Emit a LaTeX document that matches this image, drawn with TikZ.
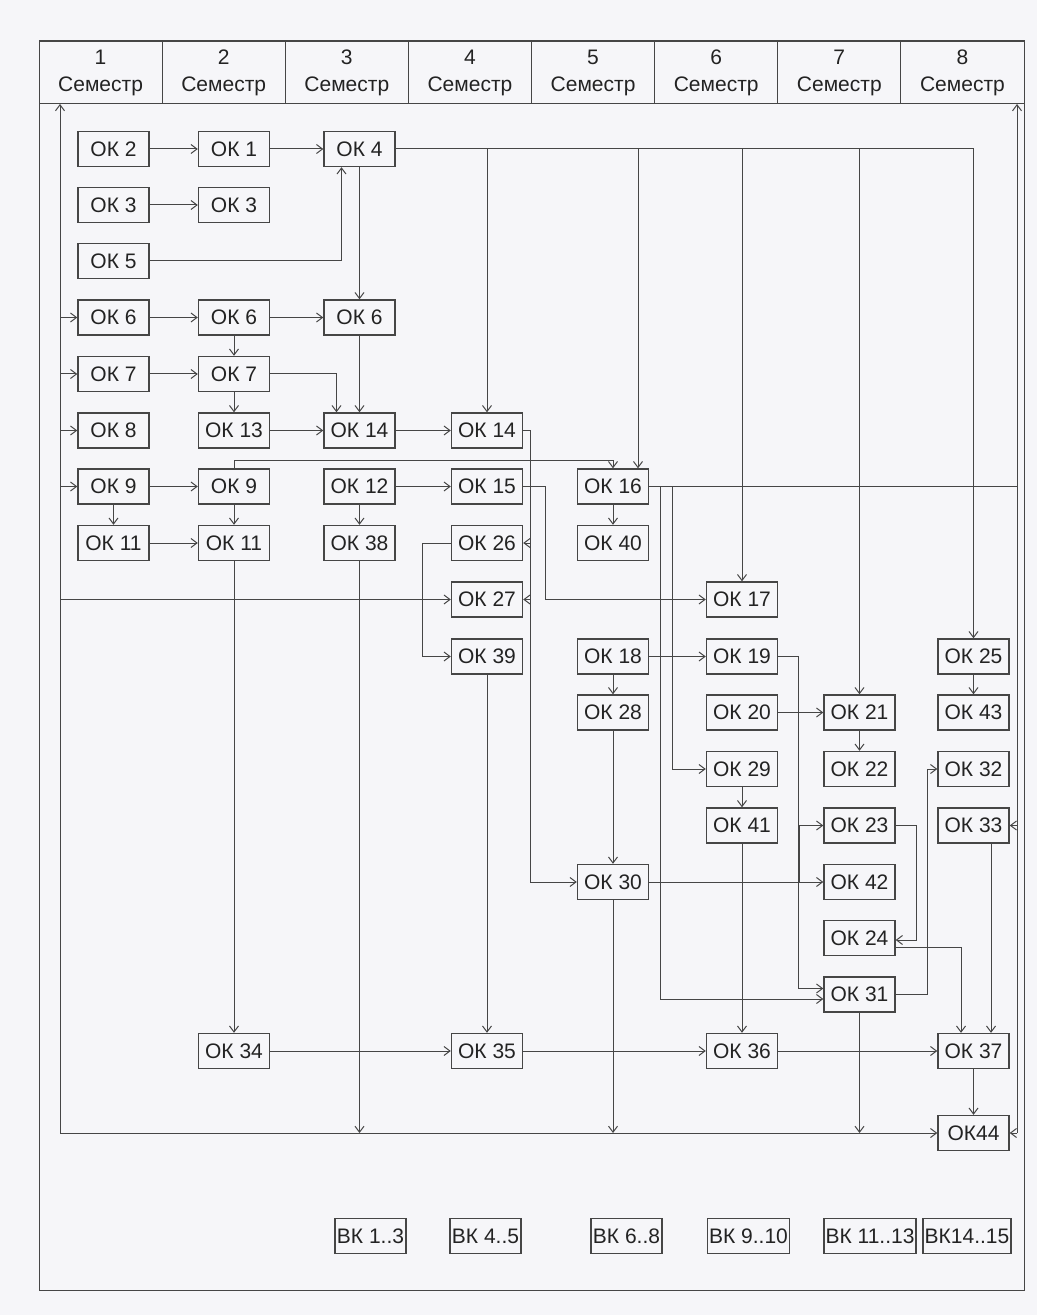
\documentclass[tikz,border=0pt]{standalone}
\usepackage{fontspec}
\setmainfont{Liberation Sans}
\usetikzlibrary{arrows.meta,positioning,calc}

\definecolor{bg}{RGB}{246,246,249}
\definecolor{ink}{RGB}{70,70,70}
\definecolor{txt}{RGB}{35,35,35}

\begin{document}
\begin{tikzpicture}[
  x=0.5pt, y=-0.5pt,
  font=\fontsize{10.5}{12}\selectfont,
  okbox/.style={draw=ink, line width=0.7pt, fill=bg, text=txt, minimum width=35.5pt, minimum height=17.5pt, inner sep=0pt},
  vkbox/.style={okbox, inner xsep=0.8pt},
  semcell/.style={draw=ink, line width=0.5pt, align=center, text=txt, minimum width=61.56pt, minimum height=31pt, inner sep=0pt, font=\fontsize{10.5}{13.5}\selectfont},
  conn/.style={draw=ink, line width=0.5pt},
  flow/.style={conn, -{Straight Barb[length=3pt,width=4.5pt]}}
]
\fill[bg] (0,0) rectangle (1037,1315);
\draw[conn] (39,41) rectangle (1024,1290);
\foreach \n in {1,...,8}
  \node[semcell] (sem\n) at ({39+123.125*(\n-0.5)},72.5) {\n\\Семестр};

% buses
\coordinate (ltop) at (60,104);
\coordinate (lbot) at (60,1133);
\coordinate (rtop) at (1017,104);
\coordinate (rbot) at (1017,1133);

% semester 1
\node[okbox] (ok2) at (113.5,149) {ОК 2};
\node[okbox] (ok3a) at (113.5,205) {ОК 3};
\node[okbox] (ok5) at (113.5,261) {ОК 5};
\node[okbox] (ok6a) at (113.5,317.5) {ОК 6};
\node[okbox] (ok7a) at (113.5,374) {ОК 7};
\node[okbox] (ok8) at (113.5,430.5) {ОК 8};
\node[okbox] (ok9a) at (113.5,486.5) {ОК 9};
\node[okbox] (ok11a) at (113.5,543) {ОК 11};
% semester 2
\node[okbox] (ok1) at (234,149) {ОК 1};
\node[okbox] (ok3b) at (234,205) {ОК 3};
\node[okbox] (ok6b) at (234,317.5) {ОК 6};
\node[okbox] (ok7b) at (234,374) {ОК 7};
\node[okbox] (ok13) at (234,430.5) {ОК 13};
\node[okbox] (ok9b) at (234,486.5) {ОК 9};
\node[okbox] (ok11b) at (234,543) {ОК 11};
\node[okbox] (ok34) at (234,1051) {ОК 34};
% semester 3
\node[okbox] (ok4) at (359.5,149) {ОК 4};
\node[okbox] (ok6c) at (359.5,317.5) {ОК 6};
\node[okbox] (ok14a) at (359.5,430.5) {ОК 14};
\node[okbox] (ok12) at (359.5,486.5) {ОК 12};
\node[okbox] (ok38) at (359.5,543) {ОК 38};
% semester 4
\node[okbox] (ok14b) at (487,430.5) {ОК 14};
\node[okbox] (ok15) at (487,486.5) {ОК 15};
\node[okbox] (ok26) at (487,543) {ОК 26};
\node[okbox] (ok27) at (487,599.5) {ОК 27};
\node[okbox] (ok39) at (487,656.5) {ОК 39};
\node[okbox] (ok35) at (487,1051) {ОК 35};
% semester 5
\node[okbox] (ok16) at (613,486.5) {ОК 16};
\node[okbox] (ok40) at (613,543) {ОК 40};
\node[okbox] (ok18) at (613,656.5) {ОК 18};
\node[okbox] (ok28) at (613,712.5) {ОК 28};
\node[okbox] (ok30) at (613,882) {ОК 30};
% semester 6
\node[okbox] (ok17) at (742,599.5) {ОК 17};
\node[okbox] (ok19) at (742,656.5) {ОК 19};
\node[okbox] (ok20) at (742,712.5) {ОК 20};
\node[okbox] (ok29) at (742,769) {ОК 29};
\node[okbox] (ok41) at (742,825.5) {ОК 41};
\node[okbox] (ok36) at (742,1051) {ОК 36};
% semester 7
\node[okbox] (ok21) at (859.5,712.5) {ОК 21};
\node[okbox] (ok22) at (859.5,769) {ОК 22};
\node[okbox] (ok23) at (859.5,825.5) {ОК 23};
\node[okbox] (ok42) at (859.5,882) {ОК 42};
\node[okbox] (ok24) at (859.5,938) {ОК 24};
\node[okbox] (ok31) at (859.5,994.5) {ОК 31};
% semester 8
\node[okbox] (ok25) at (973.5,656.5) {ОК 25};
\node[okbox] (ok43) at (973.5,712.5) {ОК 43};
\node[okbox] (ok32) at (973.5,769) {ОК 32};
\node[okbox] (ok33) at (973.5,825.5) {ОК 33};
\node[okbox] (ok37) at (973.5,1051) {ОК 37};
\node[okbox] (ok44) at (973.5,1133) {ОК44};
% elective blocks
\node[vkbox] (vk1) at (370.5,1236) {ВК 1..3};
\node[vkbox] (vk2) at (485.5,1236) {ВК 4..5};
\node[vkbox] (vk3) at (626.5,1236) {ВК 6..8};
\node[vkbox] (vk4) at (748.5,1236) {ВК 9..10};
\node[vkbox] (vk5) at (870,1236) {ВК 11..13};
\node[vkbox] (vk6) at (967,1236) {ВК14..15};

% left and right returns, bottom bus
\draw[flow] (lbot) -- (ltop);
\draw[flow] (rbot) -- (rtop);
\draw[flow] (lbot) -- (ok44);
\draw[flow] (rbot) -- (ok44);
\foreach \t in {ok6a,ok7a,ok8,ok9a,ok27}
  \draw[flow] (\t -| ltop) -- (\t);
\draw[flow] (ok33 -| rtop) -- (ok33);

% top rows
\draw[flow] (ok2) -- (ok1);
\draw[flow] (ok1) -- (ok4);
\draw[flow] (ok3a) -- (ok3b);
\draw[flow] (ok5) -| ($(ok4.south)+(-18,0)$);
\draw[flow] (ok4) -- (ok6c);
\draw[flow] (ok4) -| (ok25);
\draw[flow] (ok4 -| ok14b) -- (ok14b);
\draw[flow] ($(ok4 -| ok16)+(25,0)$) -- ($(ok16.north)+(25,0)$);
\draw[flow] (ok4 -| ok17) -- (ok17);
\draw[flow] (ok4 -| ok21) -- (ok21);
\draw[flow] (ok6a) -- (ok6b);
\draw[flow] (ok6b) -- (ok6c);
\draw[flow] (ok6b) -- (ok7b);
\draw[flow] (ok7a) -- (ok7b);
\draw[flow] (ok7b) -- (ok13);
\draw[flow] (ok7b) -| ($(ok14a.north)+(-23,0)$);
\draw[flow] (ok6c) -- (ok14a);
\draw[flow] (ok13) -- (ok14a);
\draw[flow] (ok14a) -- (ok14b);
\draw[flow] (ok9a) -- (ok9b);
\draw[flow] (ok9a) -- (ok11a);
\draw[flow] (ok11a) -- (ok11b);
\draw[flow] (ok9b) -- (ok11b);
\draw[flow] (ok9b.north) -- ++(0,-8) -| (ok16.north);
\draw[flow] (ok12) -- (ok15);
\draw[flow] (ok12) -- (ok38);

% semester 4 and 5
\draw[flow] (ok14b.east) -- ++(7,0) |- (ok30);
\draw[flow] ($(ok26.east)+(7,0)$) -- (ok26.east);
\draw[flow] ($(ok27.east)+(7,0)$) -- (ok27.east);
\draw[flow] (ok15.east) -- ++(22,0) |- (ok17);
\draw[flow] (ok26.west) -- ++(-28,0) |- (ok39);
\draw[flow] (ok16) -- (ok40);
\draw[conn] (ok16) -- (ok16 -| rtop);
\draw[flow] ($(ok16.east)+(11,0)$) |- ($(ok31.west)+(0,4.5)$);
\draw[flow] ($(ok16.east)+(23,0)$) |- (ok29);
\draw[flow] (ok18) -- (ok19);
\draw[flow] (ok18) -- (ok28);
\draw[flow] (ok28) -- (ok30);
\draw[flow] (ok30) -- (ok42);
\draw[flow] ($(ok30 -| ok42.west)+(-24,0)$) |- (ok23);

% semester 6 to 8
\draw[flow] (ok19.east) -- ++(20,0) |- ($(ok31.west)+(0,-6)$);
\draw[flow] (ok20) -- (ok21);
\draw[flow] (ok21) -- (ok22);
\draw[flow] (ok29) -- (ok41);
\draw[flow] (ok25) -- (ok43);
\draw[flow] (ok23.east) -- ++(21,0) |- ($(ok24.east)+(0,2)$);
\draw[flow] ($(ok24.east)+(0,9)$) -| ($(ok37.north)+(-12.5,0)$);
\draw[flow] (ok31.east) -- ++(32,0) |- (ok32);
\draw[flow] ($(ok33.south)+(17.5,0)$) -- ($(ok37.north)+(17.5,0)$);
\draw[flow] (ok37) -- (ok44);

% long verticals and bottom row
\draw[flow] (ok11b) -- (ok34);
\draw[flow] (ok39) -- (ok35);
\draw[flow] (ok41) -- (ok36);
\draw[flow] (ok38) -- (ok38 |- lbot);
\draw[flow] (ok30) -- (ok30 |- lbot);
\draw[flow] (ok31) -- (ok31 |- lbot);
\draw[flow] (ok34) -- (ok35);
\draw[flow] (ok35) -- (ok36);
\draw[flow] (ok36) -- (ok37);
\end{tikzpicture}
\end{document}
